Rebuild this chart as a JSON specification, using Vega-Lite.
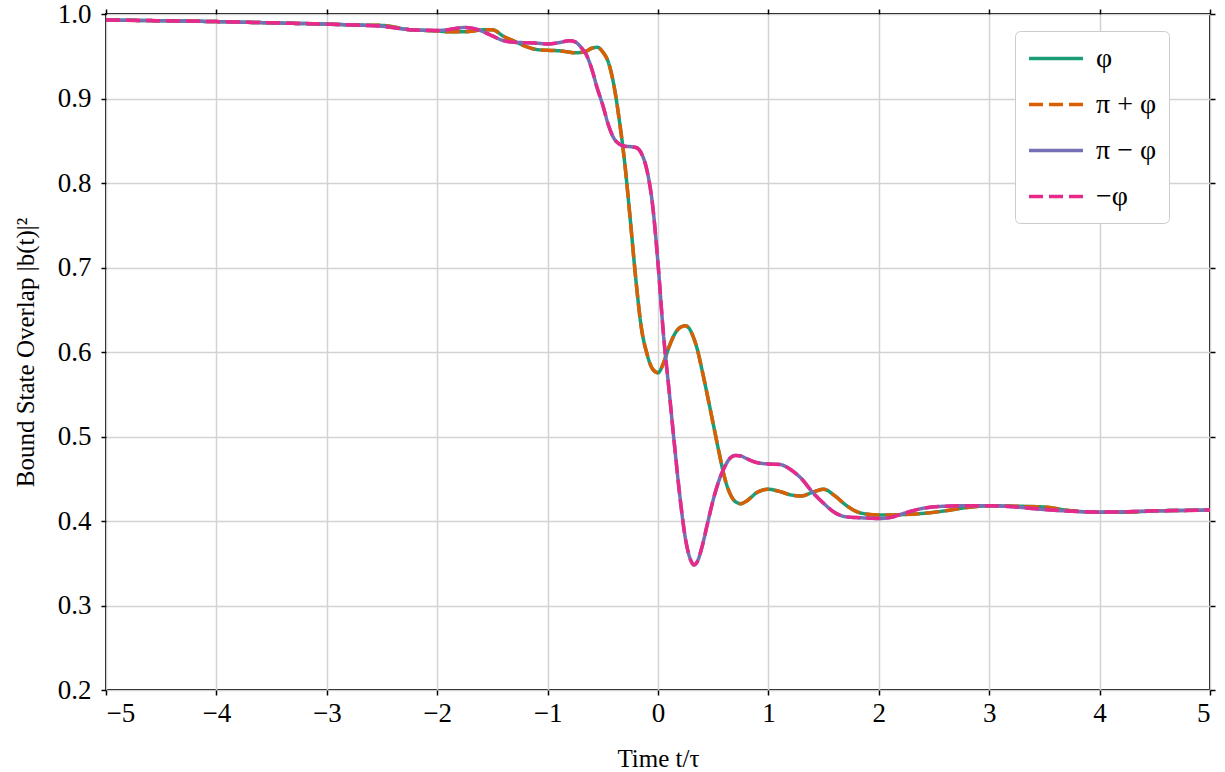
{
  "$schema": "https://vega.github.io/schema/vega-lite/v6.json",
  "width": 1104,
  "height": 676,
  "autosize": {"type": "none"},
  "padding": {"left": 106, "top": 14, "right": 15, "bottom": 82},
  "background": "white",
  "config": {
    "font": "Liberation Serif",
    "view": {"stroke": "black", "strokeWidth": 2},
    "axis": {
      "labelFont": "Liberation Serif",
      "titleFont": "Liberation Serif",
      "labelFontSize": 27,
      "titleFontSize": 25,
      "titleFontWeight": "normal",
      "labelColor": "black",
      "titleColor": "black",
      "tickColor": "black",
      "tickWidth": 1.5,
      "tickSize": 5,
      "domain": false,
      "gridColor": "#d3d3d3",
      "gridWidth": 1.5,
      "gridOpacity": 1
    }
  },
  "data": {"values": [
    {"t": -5, "φ": 0.993, "π + φ": 0.993, "π − φ": 0.993, "−φ": 0.993},
    {"t": -4.5, "φ": 0.992, "π + φ": 0.992, "π − φ": 0.992, "−φ": 0.992},
    {"t": -4, "φ": 0.991, "π + φ": 0.991, "π − φ": 0.991, "−φ": 0.991},
    {"t": -3.5, "φ": 0.9895, "π + φ": 0.9895, "π − φ": 0.9895, "−φ": 0.9895},
    {"t": -3, "φ": 0.988, "π + φ": 0.988, "π − φ": 0.988, "−φ": 0.988},
    {"t": -2.75, "φ": 0.987, "π + φ": 0.987, "π − φ": 0.987, "−φ": 0.987},
    {"t": -2.5, "φ": 0.9865, "π + φ": 0.9865, "π − φ": 0.9855, "−φ": 0.9855},
    {"t": -2.25, "φ": 0.9815, "π + φ": 0.9815, "π − φ": 0.9815, "−φ": 0.9815},
    {"t": -2, "φ": 0.98, "π + φ": 0.98, "π − φ": 0.9805, "−φ": 0.9805},
    {"t": -1.9, "φ": 0.979, "π + φ": 0.979, "π − φ": 0.9815, "−φ": 0.9815},
    {"t": -1.8, "φ": 0.979, "π + φ": 0.979, "π − φ": 0.9835, "−φ": 0.9835},
    {"t": -1.75, "φ": 0.979, "π + φ": 0.979, "π − φ": 0.984, "−φ": 0.984},
    {"t": -1.7, "φ": 0.9795, "π + φ": 0.9795, "π − φ": 0.9835, "−φ": 0.9835},
    {"t": -1.6, "φ": 0.9812, "π + φ": 0.9812, "π − φ": 0.98, "−φ": 0.98},
    {"t": -1.5, "φ": 0.9815, "π + φ": 0.9815, "π − φ": 0.974, "−φ": 0.974},
    {"t": -1.4, "φ": 0.9736, "π + φ": 0.9736, "π − φ": 0.9685, "−φ": 0.9685},
    {"t": -1.3, "φ": 0.9677, "π + φ": 0.9677, "π − φ": 0.9665, "−φ": 0.9665},
    {"t": -1.2, "φ": 0.9618, "π + φ": 0.9618, "π − φ": 0.966, "−φ": 0.966},
    {"t": -1.1, "φ": 0.958, "π + φ": 0.958, "π − φ": 0.9655, "−φ": 0.9655},
    {"t": -1.0, "φ": 0.957, "π + φ": 0.957, "π − φ": 0.9646, "−φ": 0.9646},
    {"t": -0.9, "φ": 0.9565, "π + φ": 0.9565, "π − φ": 0.966, "−φ": 0.966},
    {"t": -0.8, "φ": 0.9548, "π + φ": 0.9548, "π − φ": 0.9684, "−φ": 0.9684},
    {"t": -0.75, "φ": 0.954, "π + φ": 0.954, "π − φ": 0.967, "−φ": 0.967},
    {"t": -0.7, "φ": 0.9545, "π + φ": 0.9545, "π − φ": 0.961, "−φ": 0.961},
    {"t": -0.65, "φ": 0.956, "π + φ": 0.956, "π − φ": 0.952, "−φ": 0.952},
    {"t": -0.6, "φ": 0.9595, "π + φ": 0.9595, "π − φ": 0.935, "−φ": 0.935},
    {"t": -0.55, "φ": 0.9606, "π + φ": 0.9606, "π − φ": 0.912, "−φ": 0.912},
    {"t": -0.5, "φ": 0.955, "π + φ": 0.955, "π − φ": 0.892, "−φ": 0.892},
    {"t": -0.45, "φ": 0.943, "π + φ": 0.943, "π − φ": 0.869, "−φ": 0.869},
    {"t": -0.4, "φ": 0.916, "π + φ": 0.916, "π − φ": 0.853, "−φ": 0.853},
    {"t": -0.35, "φ": 0.874, "π + φ": 0.874, "π − φ": 0.846, "−φ": 0.846},
    {"t": -0.3, "φ": 0.822, "π + φ": 0.822, "π − φ": 0.8435, "−φ": 0.8435},
    {"t": -0.25, "φ": 0.755, "π + φ": 0.755, "π − φ": 0.843, "−φ": 0.843},
    {"t": -0.2, "φ": 0.685, "π + φ": 0.685, "π − φ": 0.842, "−φ": 0.842},
    {"t": -0.15, "φ": 0.628, "π + φ": 0.628, "π − φ": 0.835, "−φ": 0.835},
    {"t": -0.1, "φ": 0.598, "π + φ": 0.598, "π − φ": 0.815, "−φ": 0.815},
    {"t": -0.05, "φ": 0.58, "π + φ": 0.58, "π − φ": 0.775, "−φ": 0.775},
    {"t": 0, "φ": 0.5755, "π + φ": 0.5755, "π − φ": 0.705, "−φ": 0.705},
    {"t": 0.05, "φ": 0.587, "π + φ": 0.587, "π − φ": 0.62, "−φ": 0.62},
    {"t": 0.1, "φ": 0.606, "π + φ": 0.606, "π − φ": 0.555, "−φ": 0.555},
    {"t": 0.15, "φ": 0.621, "π + φ": 0.621, "π − φ": 0.489, "−φ": 0.489},
    {"t": 0.2, "φ": 0.629, "π + φ": 0.629, "π − φ": 0.427, "−φ": 0.427},
    {"t": 0.25, "φ": 0.631, "π + φ": 0.631, "π − φ": 0.378, "−φ": 0.378},
    {"t": 0.3, "φ": 0.624, "π + φ": 0.624, "π − φ": 0.3525, "−φ": 0.3525},
    {"t": 0.325, "φ": 0.616, "π + φ": 0.616, "π − φ": 0.348, "−φ": 0.348},
    {"t": 0.35, "φ": 0.606, "π + φ": 0.606, "π − φ": 0.3505, "−φ": 0.3505},
    {"t": 0.4, "φ": 0.578, "π + φ": 0.578, "π − φ": 0.37, "−φ": 0.37},
    {"t": 0.45, "φ": 0.547, "π + φ": 0.547, "π − φ": 0.398, "−φ": 0.398},
    {"t": 0.5, "φ": 0.515, "π + φ": 0.515, "π − φ": 0.425, "−φ": 0.425},
    {"t": 0.55, "φ": 0.483, "π + φ": 0.483, "π − φ": 0.447, "−φ": 0.447},
    {"t": 0.6, "φ": 0.453, "π + φ": 0.453, "π − φ": 0.463, "−φ": 0.463},
    {"t": 0.65, "φ": 0.433, "π + φ": 0.433, "π − φ": 0.474, "−φ": 0.474},
    {"t": 0.7, "φ": 0.423, "π + φ": 0.423, "π − φ": 0.4775, "−φ": 0.4775},
    {"t": 0.75, "φ": 0.4205, "π + φ": 0.4205, "π − φ": 0.477, "−φ": 0.477},
    {"t": 0.8, "φ": 0.4235, "π + φ": 0.4235, "π − φ": 0.474, "−φ": 0.474},
    {"t": 0.9, "φ": 0.434, "π + φ": 0.434, "π − φ": 0.469, "−φ": 0.469},
    {"t": 1.0, "φ": 0.4376, "π + φ": 0.4376, "π − φ": 0.4675, "−φ": 0.4675},
    {"t": 1.1, "φ": 0.435, "π + φ": 0.435, "π − φ": 0.467, "−φ": 0.467},
    {"t": 1.2, "φ": 0.431, "π + φ": 0.431, "π − φ": 0.461, "−φ": 0.461},
    {"t": 1.3, "φ": 0.4296, "π + φ": 0.4296, "π − φ": 0.45, "−φ": 0.45},
    {"t": 1.4, "φ": 0.434, "π + φ": 0.434, "π − φ": 0.434, "−φ": 0.434},
    {"t": 1.5, "φ": 0.4376, "π + φ": 0.4376, "π − φ": 0.421, "−φ": 0.421},
    {"t": 1.6, "φ": 0.43, "π + φ": 0.43, "π − φ": 0.41, "−φ": 0.41},
    {"t": 1.7, "φ": 0.419, "π + φ": 0.419, "π − φ": 0.405, "−φ": 0.405},
    {"t": 1.8, "φ": 0.411, "π + φ": 0.411, "π − φ": 0.404, "−φ": 0.404},
    {"t": 1.9, "φ": 0.408, "π + φ": 0.408, "π − φ": 0.4035, "−φ": 0.4035},
    {"t": 2.0, "φ": 0.407, "π + φ": 0.407, "π − φ": 0.403, "−φ": 0.403},
    {"t": 2.1, "φ": 0.407, "π + φ": 0.407, "π − φ": 0.404, "−φ": 0.404},
    {"t": 2.2, "φ": 0.4075, "π + φ": 0.4075, "π − φ": 0.408, "−φ": 0.408},
    {"t": 2.4, "φ": 0.409, "π + φ": 0.409, "π − φ": 0.415, "−φ": 0.415},
    {"t": 2.6, "φ": 0.412, "π + φ": 0.412, "π − φ": 0.4175, "−φ": 0.4175},
    {"t": 2.8, "φ": 0.416, "π + φ": 0.416, "π − φ": 0.418, "−φ": 0.418},
    {"t": 3.0, "φ": 0.418, "π + φ": 0.418, "π − φ": 0.418, "−φ": 0.418},
    {"t": 3.25, "φ": 0.4175, "π + φ": 0.4175, "π − φ": 0.4165, "−φ": 0.4165},
    {"t": 3.5, "φ": 0.4165, "π + φ": 0.4165, "π − φ": 0.4135, "−φ": 0.4135},
    {"t": 3.75, "φ": 0.412, "π + φ": 0.412, "π − φ": 0.4115, "−φ": 0.4115},
    {"t": 4.0, "φ": 0.4105, "π + φ": 0.4105, "π − φ": 0.4105, "−φ": 0.4105},
    {"t": 4.25, "φ": 0.4105, "π + φ": 0.4105, "π − φ": 0.411, "−φ": 0.411},
    {"t": 4.5, "φ": 0.412, "π + φ": 0.412, "π − φ": 0.412, "−φ": 0.412},
    {"t": 4.75, "φ": 0.4125, "π + φ": 0.4125, "π − φ": 0.4125, "−φ": 0.4125},
    {"t": 5.0, "φ": 0.413, "π + φ": 0.413, "π − φ": 0.413, "−φ": 0.413}
  ]},
  "transform": [{"fold": ["φ", "π + φ", "π − φ", "−φ"], "as": ["series", "value"]}],
  "encoding": {
    "color": {
      "field": "series", "type": "nominal",
      "scale": {"domain": ["φ", "π + φ", "π − φ", "−φ"], "range": ["#1b9e77", "#d95f02", "#7570b3", "#e7298a"]},
      "legend": {
        "orient": "none", "legendX": 909, "legendY": 17, "title": null,
        "symbolType": "M-1,0L3,0", "symbolSize": 729, "symbolStrokeWidth": 3.5,
        "labelFontSize": 28, "labelFont": "Liberation Serif", "labelColor": "black",
        "labelOffset": 38, "rowPadding": 16, "padding": 12,
        "strokeColor": "#cccccc", "fillColor": "white", "cornerRadius": 5
      }
    },
    "strokeDash": {
      "field": "series", "type": "nominal",
      "scale": {"domain": ["φ", "π + φ", "π − φ", "−φ"], "range": [[1, 0], [14, 6], [1, 0], [14, 6]]},
      "legend": {
        "orient": "none", "legendX": 909, "legendY": 17, "title": null,
        "symbolType": "M-1,0L3,0", "symbolSize": 729, "symbolStrokeWidth": 3.5,
        "labelFontSize": 28, "labelFont": "Liberation Serif", "labelColor": "black",
        "labelOffset": 38, "rowPadding": 16, "padding": 12,
        "strokeColor": "#cccccc", "fillColor": "white", "cornerRadius": 5
      }
    }
  },
  "layer": [
    {
      "transform": [{"filter": "datum.series === 'φ'"}],
      "mark": {"type": "line", "strokeWidth": 3.5, "interpolate": "monotone"},
      "encoding": {
        "x": {"field": "t", "type": "quantitative", "scale": {"domain": [-5, 5], "nice": false},
          "axis": {"orient": "bottom", "values": [-5, -4, -3, -2, -1, 0, 1, 2, 3, 4, 5], "format": "d", "labelPadding": 5, "title": "Time t/τ", "titlePadding": 20}},
        "y": {"field": "value", "type": "quantitative", "scale": {"domain": [0.2, 1.0], "nice": false, "zero": false},
          "axis": {"orient": "left", "values": [0.2, 0.3, 0.4, 0.5, 0.6, 0.7, 0.8, 0.9, 1.0], "format": ".1f", "labelPadding": 10, "title": "Bound State Overlap |b(t)|²", "titlePadding": 19}}
      }
    },
    {
      "transform": [{"filter": "datum.series === 'π + φ'"}],
      "mark": {"type": "line", "strokeWidth": 3.5, "interpolate": "monotone"},
      "encoding": {
        "x": {"field": "t", "type": "quantitative", "scale": {"domain": [-5, 5], "nice": false},
          "axis": {"orient": "top", "values": [-5, -4, -3, -2, -1, 0, 1, 2, 3, 4, 5], "labels": false, "grid": false, "title": null}},
        "y": {"field": "value", "type": "quantitative", "scale": {"domain": [0.2, 1.0], "nice": false, "zero": false},
          "axis": {"orient": "right", "values": [0.2, 0.3, 0.4, 0.5, 0.6, 0.7, 0.8, 0.9, 1.0], "labels": false, "grid": false, "title": null}}
      }
    },
    {
      "transform": [{"filter": "datum.series === 'π − φ'"}],
      "mark": {"type": "line", "strokeWidth": 3.5, "interpolate": "monotone"},
      "encoding": {
        "x": {"field": "t", "type": "quantitative", "axis": null},
        "y": {"field": "value", "type": "quantitative", "axis": null}
      }
    },
    {
      "transform": [{"filter": "datum.series === '−φ'"}],
      "mark": {"type": "line", "strokeWidth": 3.5, "interpolate": "monotone"},
      "encoding": {
        "x": {"field": "t", "type": "quantitative", "axis": null},
        "y": {"field": "value", "type": "quantitative", "axis": null}
      }
    }
  ],
  "resolve": {"axis": {"x": "independent", "y": "independent"}}
}
